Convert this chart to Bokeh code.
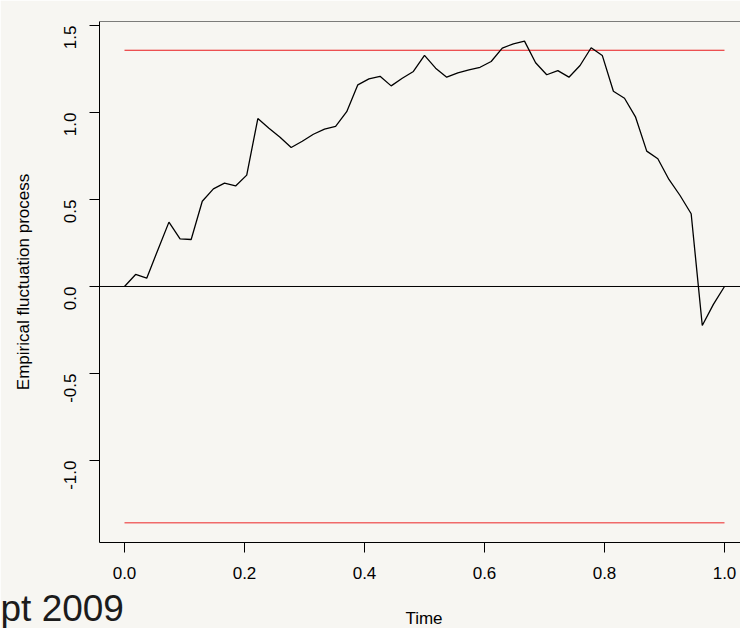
import math

from bokeh.embed import file_html
from bokeh.models import FixedTicker, Label, Range1d, Span
from bokeh.plotting import figure
from bokeh.resources import INLINE

# Empirical fluctuation process (OLS-based CUSUM), 55 equally spaced observations
n_obs = 55
time = [i / (n_obs - 1) for i in range(n_obs)]
process = [
    0.000, 0.069, 0.048, 0.210, 0.370, 0.274, 0.270, 0.490, 0.561, 0.594,
    0.578, 0.640, 0.965, 0.910, 0.858, 0.799, 0.835, 0.875, 0.904, 0.920,
    1.005, 1.159, 1.193, 1.208, 1.153, 1.197, 1.236, 1.328, 1.255, 1.203,
    1.228, 1.245, 1.260, 1.293, 1.370, 1.395, 1.410, 1.286, 1.217, 1.241,
    1.203, 1.270, 1.372, 1.328, 1.122, 1.082, 0.973, 0.778, 0.734, 0.615,
    0.523, 0.418, -0.224, -0.103, 0.000,
]
# 5% critical boundary of the process
boundary = 1.358

x_ticks = [0.0, 0.2, 0.4, 0.6, 0.8, 1.0]
x_tick_labels = ["0.0", "0.2", "0.4", "0.6", "0.8", "1.0"]
y_ticks = [-1.0, -0.5, 0.0, 0.5, 1.0, 1.5]
y_tick_labels = ["-1.0", "-0.5", "0.0", "0.5", "1.0", "1.5"]

x_title = "Time"
y_title = "Empirical fluctuation process"
footer = "pt 2009"

FONT = "Liberation Sans"
BG = "#f7f6f2"
WIDTH = 740
HEIGHT = 628
LEFT = 99

x_lo, x_hi = -0.04167, 1.02667
y_lo, y_hi = -1.4713, 1.523

p = figure(
    width=WIDTH, height=HEIGHT,
    output_backend="svg", toolbar_location=None,
    x_range=Range1d(x_lo, x_hi), y_range=Range1d(y_lo, y_hi),
    min_border_left=LEFT, min_border_right=0,
    min_border_top=21, min_border_bottom=86,
    background_fill_color=BG, border_fill_color=BG,
    outline_line_color=None,
)
p.grid.visible = False

for ax in (p.xaxis[0], p.yaxis[0]):
    ax.axis_line_color = "black"
    ax.axis_line_width = 1
    ax.major_tick_line_color = "black"
    ax.major_tick_out = 10
    ax.major_tick_in = 0
    ax.minor_tick_line_color = None
    ax.major_label_text_font = FONT
    ax.major_label_text_font_size = "17px"
    ax.major_label_text_color = "black"
    ax.axis_label_text_font = FONT
    ax.axis_label_text_font_size = "17px"
    ax.axis_label_text_font_style = "normal"
    ax.axis_label_text_color = "black"

p.xaxis.ticker = FixedTicker(ticks=x_ticks)
p.xaxis.major_label_overrides = dict(zip(x_ticks, x_tick_labels))
p.xaxis.major_label_standoff = 14

p.yaxis.ticker = FixedTicker(ticks=y_ticks)
p.yaxis.major_label_overrides = dict(zip(y_ticks, y_tick_labels))
p.yaxis.major_label_orientation = math.pi / 2
p.yaxis.major_label_standoff = 19
p.yaxis.axis_label = y_title
p.yaxis.axis_label_standoff = 23

# box top edge and the zero reference line
p.add_layout(Span(location=y_hi, dimension="width", line_color="black", line_width=1))
p.add_layout(Span(location=0, dimension="width", line_color="black", line_width=1))

# boundaries
p.line([time[0], time[-1]], [boundary, boundary], line_color="#e8191b", line_width=1.1)
p.line([time[0], time[-1]], [-boundary, -boundary], line_color="#f06a6a", line_width=1.6)

# the process itself
p.line(time, process, line_color="black", line_width=1.3)

# Texts outside the frame live in side panels (so they are not clipped) and are
# positioned in canvas pixels. The x title sits in the top panel, whose
# min_border already covers its height; it is drawn under the tick labels,
# centred on the frame (which runs past the right edge of the canvas).
frame_center = LEFT + (WIDTH + 8 - LEFT) / 2
p.add_layout(Label(
    x=frame_center, y=617.5, x_units="canvas", y_units="canvas", text=x_title,
    text_font=FONT, text_font_size="17px", text_color="black",
    text_align="center", text_baseline="alphabetic",
), "above")

# footer date in the bottom-left corner
p.add_layout(Label(
    x=0, y=HEIGHT, x_units="canvas", y_units="canvas", text=footer,
    text_font=FONT, text_font_size="37px", text_color="#1c1c1c",
    text_align="left", text_baseline="bottom",
), "below")

open("out.html", "w").write(file_html(p, INLINE))
